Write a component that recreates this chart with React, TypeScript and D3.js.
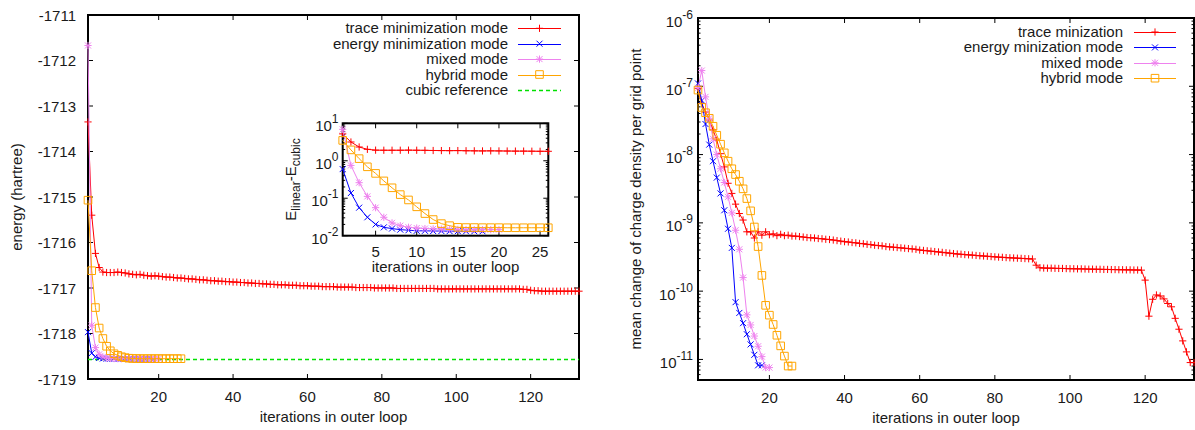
import React from 'react';
import * as d3 from 'd3';

const FONT = "'Liberation Sans', Arial, Helvetica, sans-serif";
const TEXT = '#1a1a1a';

// ---------- data ----------
const cubicReference = -1718.57;

// energy (hartree) of the trace minimization mode, iterations 1..133
const traceEnergy = [
  -1713.35, -1715.40, -1716.24, -1716.55, -1716.65, -1716.66, -1716.66, -1716.66, -1716.65, -1716.66,
  -1716.67, -1716.69, -1716.70, -1716.71, -1716.70, -1716.72, -1716.73, -1716.74, -1716.73, -1716.74,
  -1716.75, -1716.76, -1716.76, -1716.77, -1716.78, -1716.78, -1716.79, -1716.80, -1716.80, -1716.81,
  -1716.82, -1716.82, -1716.83, -1716.84, -1716.84, -1716.85, -1716.85, -1716.86, -1716.86, -1716.87,
  -1716.87, -1716.88, -1716.88, -1716.89, -1716.89, -1716.90, -1716.90, -1716.91, -1716.91, -1716.92,
  -1716.92, -1716.93, -1716.93, -1716.93, -1716.94, -1716.94, -1716.94, -1716.95, -1716.95, -1716.95,
  -1716.96, -1716.96, -1716.96, -1716.97, -1716.97, -1716.97, -1716.97, -1716.98, -1716.98, -1716.98,
  -1716.98, -1716.98, -1716.99, -1716.99, -1716.99, -1716.99, -1716.99, -1717.00, -1717.00, -1717.00,
  -1717.00, -1717.00, -1717.00, -1717.01, -1717.01, -1717.01, -1717.01, -1717.01, -1717.01, -1717.01,
  -1717.01, -1717.01, -1717.01, -1717.01, -1717.02, -1717.02, -1717.02, -1717.02, -1717.02, -1717.02,
  -1717.02, -1717.02, -1717.02, -1717.02, -1717.02, -1717.02, -1717.02, -1717.02, -1717.02, -1717.02,
  -1717.02, -1717.02, -1717.02, -1717.02, -1717.02, -1717.02, -1717.02, -1717.03, -1717.03, -1717.05,
  -1717.06, -1717.06, -1717.07, -1717.07, -1717.07, -1717.07, -1717.07, -1717.07, -1717.07, -1717.07,
  -1717.07, -1717.07, -1717.07,
];

// E_linear - E_cubic (hartree), iterations 1..n
const energyModeDiff = [
  0.6, 0.138, 0.056, 0.031, 0.020, 0.0167, 0.0155, 0.0145, 0.014, 0.0135,
  0.0135, 0.0133, 0.0133, 0.0132, 0.0132, 0.0131, 0.0131, 0.0131,
];
const mixedModeDiff = [
  6.9, 0.75, 0.26, 0.112, 0.056, 0.031, 0.022, 0.0185, 0.0168, 0.016,
  0.0155, 0.0152, 0.015, 0.0148, 0.0147, 0.0146, 0.0145, 0.0145, 0.0145, 0.0145,
];
const hybridModeDiff = [
  3.5, 1.95, 1.14, 0.69, 0.46, 0.29, 0.19, 0.125, 0.09, 0.059,
  0.039, 0.027, 0.021, 0.0185, 0.0167, 0.0165, 0.0165, 0.0164, 0.0164, 0.0164,
  0.0163, 0.0163, 0.0163, 0.0163, 0.0163, 0.0163,
];

// mean change of charge density per grid point, iterations 1..n
const traceDensity = [
  9.3e-8, 5.6e-8, 4.2e-8, 3.2e-8, 2.3e-8, 1.63e-8, 1.03e-8, 6.6e-9, 3.8e-9, 2.7e-9,
  1.88e-9, 1.37e-9, 1.1e-9, 7.4e-10, 7.4e-10, 6.0e-10, 7.4e-10, 6.6e-10, 7.4e-10, 6.7e-10,
  6.9e-10, 6.5e-10, 6.8e-10, 6.5e-10, 6.6e-10, 6.4e-10, 6.4e-10, 6.3e-10, 6.2e-10, 6.1e-10,
  6.05e-10, 6.0e-10, 5.9e-10, 5.85e-10, 5.75e-10, 5.7e-10, 5.6e-10, 5.5e-10, 5.4e-10, 5.3e-10,
  5.25e-10, 5.15e-10, 5.1e-10, 5.0e-10, 4.95e-10, 4.85e-10, 4.8e-10, 4.7e-10, 4.65e-10, 4.6e-10,
  4.5e-10, 4.45e-10, 4.4e-10, 4.35e-10, 4.3e-10, 4.25e-10, 4.2e-10, 4.15e-10, 4.1e-10, 4.0e-10,
  3.95e-10, 3.9e-10, 3.85e-10, 3.8e-10, 3.75e-10, 3.7e-10, 3.65e-10, 3.6e-10, 3.55e-10, 3.5e-10,
  3.47e-10, 3.43e-10, 3.4e-10, 3.37e-10, 3.33e-10, 3.3e-10, 3.27e-10, 3.24e-10, 3.21e-10, 3.18e-10,
  3.15e-10, 3.13e-10, 3.1e-10, 3.08e-10, 3.06e-10, 3.04e-10, 3.02e-10, 3.0e-10, 2.98e-10, 2.96e-10,
  2.4e-10, 2.2e-10, 2.18e-10, 2.17e-10, 2.17e-10, 2.16e-10, 2.15e-10, 2.15e-10, 2.14e-10, 2.13e-10,
  2.13e-10, 2.12e-10, 2.12e-10, 2.11e-10, 2.10e-10, 2.10e-10, 2.09e-10, 2.09e-10, 2.08e-10, 2.08e-10,
  2.07e-10, 2.07e-10, 2.06e-10, 2.06e-10, 2.05e-10, 2.05e-10, 2.04e-10, 2.04e-10, 2.03e-10, 1.45e-10,
  4.3e-11, 7.6e-11, 8.8e-11, 8.5e-11, 7.7e-11, 6.6e-11, 5.9e-11, 4.0e-11, 2.77e-11, 1.87e-11,
  1.29e-11, 9.0e-12, 9.0e-12,
];
const energyDensity = [
  1.1e-7, 6.2e-8, 2.8e-8, 1.4e-8, 8.0e-9, 4.6e-9, 2.7e-9, 1.53e-9, 8.2e-10, 4.3e-10,
  6.9e-11, 4.8e-11, 3.4e-11, 2.34e-11, 1.66e-11, 1.17e-11, 8.2e-12, 8.2e-12,
];
const mixedDensity = [
  9.5e-8, 1.7e-7, 7.0e-8, 3.4e-8, 1.7e-8, 1.0e-8, 6.2e-9, 3.9e-9, 2.4e-9, 1.4e-9,
  7.8e-10, 4.1e-10, 1.58e-10, 4.5e-11, 3.2e-11, 2.2e-11, 1.56e-11, 1.1e-11, 7.6e-12, 7.6e-12,
];
const hybridDensity = [
  8.8e-8, 4.9e-8, 4.1e-8, 3.4e-8, 2.6e-8, 1.92e-8, 1.42e-8, 1.06e-8, 8.0e-9, 6.2e-9,
  5.1e-9, 4.07e-9, 3.15e-9, 2.27e-9, 1.5e-9, 8.7e-10, 4.5e-10, 1.7e-10, 6.2e-11, 4.45e-11,
  3.25e-11, 2.26e-11, 1.58e-11, 1.12e-11, 8.0e-12, 8.0e-12,
];

const energyTicks = [-1711, -1712, -1713, -1714, -1715, -1716, -1717, -1718, -1719];
const iterationTicks = [20, 40, 60, 80, 100, 120];
const insetIterationTicks = [5, 10, 15, 20, 25];
const insetExponents = [1, 0, -1, -2];
const densityExponents = [-6, -7, -8, -9, -10, -11];

const leftLegend = ['trace minimization mode', 'energy minimization mode', 'mixed mode', 'hybrid mode', 'cubic reference'];
const rightLegend = ['trace minization', 'energy minization mode', 'mixed mode', 'hybrid mode'];

// ---------- styles ----------
const RED = '#ff0000';
const BLUE = '#0000ff';
const VIOLET = '#ee82ee';
const ORANGE = '#ffa500';
const GREEN = '#00e000';

type Marker = 'plus' | 'cross' | 'star' | 'square';

function markerPath(m: Marker): string {
  const p = 3.6, c = 3.0;
  const plus = `M${-p},0H${p}M0,${-p}V${p}`;
  const cross = `M${-c},${-c}L${c},${c}M${-c},${c}L${c},${-c}`;
  if (m === 'plus') return plus;
  if (m === 'cross') return cross;
  if (m === 'star') return plus + cross;
  const s = 3.8;
  return `M${-s},${-s}H${s}V${s}H${-s}Z`;
}

function Series({ xs, ys, color, marker }: { xs: number[]; ys: number[]; color: string; marker: Marker }) {
  const pts = xs.map((x, i) => [x, ys[i]] as [number, number]);
  const line = d3.line()(pts) || '';
  const mp = markerPath(marker);
  return (
    <g>
      <path d={line} fill="none" stroke={color} strokeWidth={1} />
      {pts.map((p, i) => (
        <path key={i} d={mp} transform={`translate(${p[0]},${p[1]})`} fill="none" stroke={color} strokeWidth={1} />
      ))}
    </g>
  );
}

function Frame({ x0, x1, y0, y1 }: { x0: number; x1: number; y0: number; y1: number }) {
  return <rect x={x0} y={y0} width={x1 - x0} height={y1 - y0} fill="none" stroke="#000" strokeWidth={2} />;
}

function logMinor(lo: number, hi: number): number[] {
  const out: number[] = [];
  for (let k = Math.floor(Math.log10(lo)); k <= Math.ceil(Math.log10(hi)); k++) {
    for (let m = 2; m <= 9; m++) {
      const v = m * Math.pow(10, k);
      if (v >= lo && v <= hi) out.push(v);
    }
  }
  return out;
}

function XTicks({ scale, ticks, y0, y1, len }: { scale: (v: number) => number; ticks: number[]; y0: number; y1: number; len: number }) {
  return (
    <g stroke="#000" strokeWidth={1}>
      {ticks.map((t) => (
        <g key={t}>
          <line x1={scale(t)} x2={scale(t)} y1={y1} y2={y1 - len} />
          <line x1={scale(t)} x2={scale(t)} y1={y0} y2={y0 + len} />
        </g>
      ))}
    </g>
  );
}

function YTicks({ scale, ticks, x0, x1, len }: { scale: (v: number) => number; ticks: number[]; x0: number; x1: number; len: number }) {
  return (
    <g stroke="#000" strokeWidth={1}>
      {ticks.map((t, i) => (
        <g key={i}>
          <line y1={scale(t)} y2={scale(t)} x1={x0} x2={x0 + len} />
          <line y1={scale(t)} y2={scale(t)} x1={x1} x2={x1 - len} />
        </g>
      ))}
    </g>
  );
}

function Legend({ entries, series, xText, x0, x1, yStart, step }: {
  entries: string[]; series: { color: string; marker?: Marker; dashed?: boolean }[];
  xText: number; x0: number; x1: number; yStart: number; step: number;
}) {
  return (
    <g>
      {entries.map((label, i) => {
        const y = yStart + i * step;
        const s = series[i];
        const mid = (x0 + x1) / 2;
        return (
          <g key={label}>
            <text x={xText} y={y + 5} textAnchor="end" fontSize={15} fill={TEXT}>{label}</text>
            <line x1={x0} x2={x1} y1={Math.round(y) + 0.5} y2={Math.round(y) + 0.5} stroke={s.color} strokeWidth={s.dashed ? 1.4 : 1} strokeDasharray={s.dashed ? '4,3' : undefined} />
            {s.marker && <path d={markerPath(s.marker)} transform={`translate(${mid},${y})`} fill="none" stroke={s.color} strokeWidth={1} />}
          </g>
        );
      })}
    </g>
  );
}

export default function App() {
  // left panel
  const L = { x0: 88, x1: 579, y0: 15, y1: 379 };
  const lx = d3.scaleLinear().domain([1, 133]).range([L.x0, L.x1]);
  const ly = d3.scaleLinear().domain([-1711, -1719]).range([L.y0, L.y1]);
  // inset
  const I = { x0: 342.7, x1: 548.3, y0: 123.3, y1: 235.7 };
  const ix = d3.scaleLinear().domain([1, 26]).range([I.x0, I.x1]);
  const iy = d3.scaleLog().domain([10, 0.01]).range([I.y0, I.y1]);
  // right panel
  const R = { x0: 698, x1: 1194, y0: 18, y1: 380 };
  const rx = d3.scaleLinear().domain([1, 133]).range([R.x0, R.x1]);
  const ry = d3.scaleLog().domain([1e-6, 5e-12]).range([R.y0, R.y1]);

  const idx = (n: number) => d3.range(1, n + 1);

  const traceDiff = traceEnergy.slice(0, 26).map((e) => e - cubicReference);
  const toEnergy = (d: number[]) => d.map((v) => cubicReference + v);

  const energyEnergy = toEnergy(energyModeDiff);
  const mixedEnergy = toEnergy(mixedModeDiff);
  const hybridEnergy = toEnergy(hybridModeDiff);

  const plot = (xsF: (v: number) => number, ysF: (v: number) => number, arr: number[]) => ({
    xs: idx(arr.length).map(xsF),
    ys: arr.map(ysF),
  });

  const cubicY = Math.round(ly(cubicReference)) + 0.5;
  const cubicPath = d3.line()([[lx(1), cubicY], [lx(133), cubicY]]) || '';

  return (
    <svg width={1195} height={430} style={{ position: 'absolute', left: 0, top: 0, background: '#fff' }} fontFamily={FONT}>
      <rect x={0} y={0} width={1195} height={430} fill="#fff" />

      {/* ---------- left panel ---------- */}
      <Frame {...L} />
      <XTicks scale={lx} ticks={iterationTicks} y0={L.y0} y1={L.y1} len={5} />
      <YTicks scale={ly} ticks={energyTicks} x0={L.x0} x1={L.x1} len={5} />
      {energyTicks.map((t) => (
        <text key={t} x={76} y={ly(t) + 5.5} textAnchor="end" fontSize={15} fill={TEXT}>{t}</text>
      ))}
      {iterationTicks.map((t) => (
        <text key={t} x={lx(t)} y={L.y1 + 22.7} textAnchor="middle" fontSize={15} fill={TEXT}>{t}</text>
      ))}
      <text x={(L.x0 + L.x1) / 2} y={422} textAnchor="middle" fontSize={15} fill={TEXT}>iterations in outer loop</text>
      <text transform={`translate(22,${(L.y0 + L.y1) / 2}) rotate(-90)`} textAnchor="middle" fontSize={15} fill={TEXT}>energy (hartree)</text>

      <path d={cubicPath} fill="none" stroke={GREEN} strokeWidth={1.4} strokeDasharray="4,3" />
      <Series {...plot(lx, ly, traceEnergy)} color={RED} marker="plus" />
      <Series {...plot(lx, ly, energyEnergy)} color={BLUE} marker="cross" />
      <Series {...plot(lx, ly, mixedEnergy)} color={VIOLET} marker="star" />
      <Series {...plot(lx, ly, hybridEnergy)} color={ORANGE} marker="square" />

      <Legend
        entries={leftLegend}
        series={[{ color: RED, marker: 'plus' }, { color: BLUE, marker: 'cross' }, { color: VIOLET, marker: 'star' }, { color: ORANGE, marker: 'square' }, { color: GREEN, dashed: true }]}
        xText={508} x0={518} x1={561} yStart={28.3} step={15.4}
      />

      {/* ---------- inset ---------- */}
      <rect x={I.x0} y={I.y0} width={I.x1 - I.x0} height={I.y1 - I.y0} fill="#fff" />
      <Frame {...I} />
      <XTicks scale={ix} ticks={insetIterationTicks} y0={I.y0} y1={I.y1} len={5} />
      <YTicks scale={iy} ticks={insetExponents.map((e) => Math.pow(10, e))} x0={I.x0} x1={I.x1} len={5} />
      <YTicks scale={iy} ticks={logMinor(0.01, 10)} x0={I.x0} x1={I.x1} len={2.5} />
      {insetExponents.map((e) => (
        <text key={e} x={338.5} y={iy(Math.pow(10, e)) + 8} textAnchor="end" fontSize={15} fill={TEXT}>
          10<tspan dy={-8} fontSize={12}>{e}</tspan>
        </text>
      ))}
      {insetIterationTicks.map((t) => (
        <text key={t} x={ix(t)} y={I.y1 + 21.6} textAnchor="middle" fontSize={15} fill={TEXT}>{t}</text>
      ))}
      <text x={(I.x0 + I.x1) / 2} y={272} textAnchor="middle" fontSize={15} fill={TEXT}>iterations in outer loop</text>
      <text transform={`translate(296,${(I.y0 + I.y1) / 2}) rotate(-90)`} textAnchor="middle" fontSize={15} fill={TEXT}>
        E<tspan dy={4} fontSize={12}>linear</tspan><tspan dy={-4}>-E</tspan><tspan dy={4} fontSize={12}>cubic</tspan>
      </text>
      <Series {...plot(ix, iy, traceDiff)} color={RED} marker="plus" />
      <Series {...plot(ix, iy, energyModeDiff)} color={BLUE} marker="cross" />
      <Series {...plot(ix, iy, mixedModeDiff)} color={VIOLET} marker="star" />
      <Series {...plot(ix, iy, hybridModeDiff)} color={ORANGE} marker="square" />

      {/* ---------- right panel ---------- */}
      <Frame {...R} />
      <XTicks scale={rx} ticks={iterationTicks} y0={R.y0} y1={R.y1} len={5} />
      <YTicks scale={ry} ticks={densityExponents.map((e) => Math.pow(10, e))} x0={R.x0} x1={R.x1} len={5} />
      <YTicks scale={ry} ticks={logMinor(5e-12, 1e-6)} x0={R.x0} x1={R.x1} len={2.5} />
      {densityExponents.map((e) => (
        <text key={e} x={693} y={ry(Math.pow(10, e)) + 8.5} textAnchor="end" fontSize={15} fill={TEXT}>
          10<tspan dy={-8} fontSize={12}>{e}</tspan>
        </text>
      ))}
      {iterationTicks.map((t) => (
        <text key={t} x={rx(t)} y={R.y1 + 23.3} textAnchor="middle" fontSize={15} fill={TEXT}>{t}</text>
      ))}
      <text x={(R.x0 + R.x1) / 2} y={423} textAnchor="middle" fontSize={15} fill={TEXT}>iterations in outer loop</text>
      <text transform={`translate(640.5,${(R.y0 + R.y1) / 2}) rotate(-90)`} textAnchor="middle" fontSize={15} fill={TEXT}>mean change of charge density per grid point</text>

      <Series {...plot(rx, ry, traceDensity)} color={RED} marker="plus" />
      <Series {...plot(rx, ry, energyDensity)} color={BLUE} marker="cross" />
      <Series {...plot(rx, ry, mixedDensity)} color={VIOLET} marker="star" />
      <Series {...plot(rx, ry, hybridDensity)} color={ORANGE} marker="square" />

      <Legend
        entries={rightLegend}
        series={[{ color: RED, marker: 'plus' }, { color: BLUE, marker: 'cross' }, { color: VIOLET, marker: 'star' }, { color: ORANGE, marker: 'square' }]}
        xText={1123} x0={1134} x1={1176} yStart={32} step={15.4}
      />
    </svg>
  );
}
